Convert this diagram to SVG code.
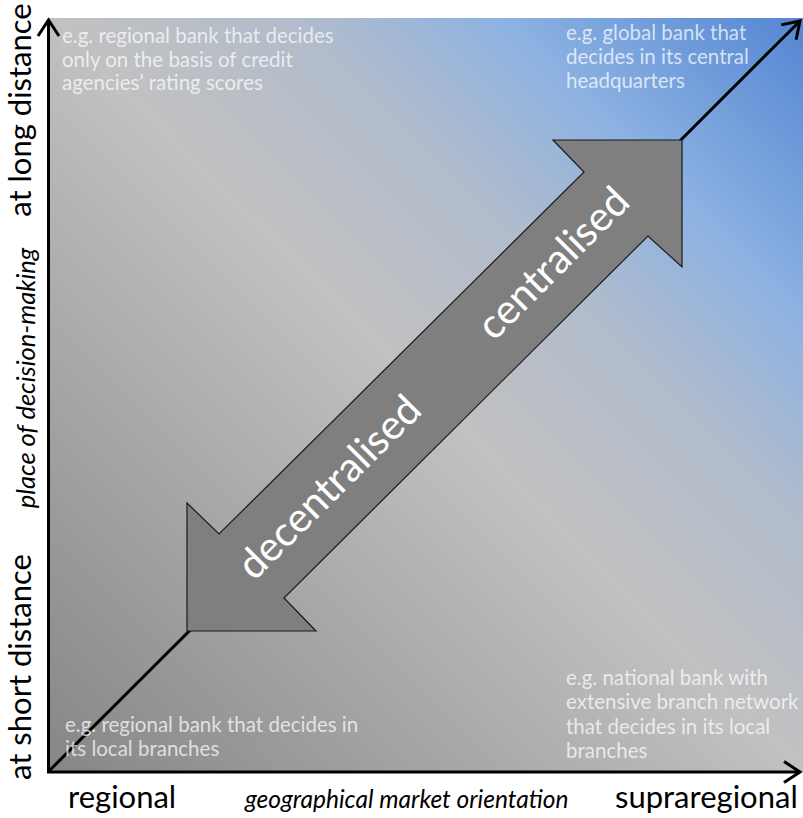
<svg xmlns="http://www.w3.org/2000/svg" width="803" height="818" viewBox="0 0 803 818">
  <defs>
    <linearGradient id="bg" gradientUnits="userSpaceOnUse" x1="48" y1="772" x2="803" y2="18">
      <stop offset="0" stop-color="#868686"/>
      <stop offset="0.5" stop-color="#c1c1c1"/>
      <stop offset="0.66" stop-color="#b2bccb"/>
      <stop offset="0.8" stop-color="#8db2e2"/>
      <stop offset="1" stop-color="#5386d2"/>
    </linearGradient>
    <marker id="chev" markerUnits="userSpaceOnUse" markerWidth="24" markerHeight="26" refX="17" refY="11" orient="auto" overflow="visible">
      <path d="M1,0.5 L17,11 L1,21.5" fill="none" stroke="#000" stroke-width="3"/>
    </marker>
    <style>
      .corner { font-family: Lato, "Liberation Sans", sans-serif; font-size: 20.5px; fill: #ffffff; fill-opacity: 0.72; }
      .axis { font-family: Lato, "Liberation Sans", sans-serif; font-size: 31px; fill: #000; }
      .axisit { font-family: Lato, "Liberation Sans", sans-serif; font-size: 24.5px; font-style: italic; fill: #000; }
      .ylabit { font-family: Lato, "Liberation Sans", sans-serif; font-size: 25.5px; font-style: italic; fill: #000; }
      .arrowlbl { font-family: Lato, "Liberation Sans", sans-serif; font-size: 41px; fill: #fff; text-anchor: middle; }
      .axline { stroke: #000; stroke-width: 3; fill: none; }
    </style>
  </defs>

  <rect x="0" y="0" width="803" height="818" fill="#ffffff"/>
  <rect id="background" x="48" y="18" width="755" height="754" fill="url(#bg)"/>

  <g id="connectors">
    <line class="axline" x1="48" y1="772" x2="800" y2="21" marker-end="url(#chev)"/>
    <line class="axline" x1="48.5" y1="773" x2="48.5" y2="20" marker-end="url(#chev)"/>
    <line class="axline" x1="47" y1="772" x2="800" y2="772" marker-end="url(#chev)"/>
  </g>

  <g id="double-arrow">
    <polygon points="682,140 682,267 648,236 284,598 316,631 187,631 187,503 219,534 584,172 553,140" fill="#7f7f7f" stroke="#1a1a1a" stroke-width="1.2" stroke-linejoin="miter"/>
    <text class="arrowlbl" transform="translate(563,273) rotate(-45)">centralised</text>
    <text class="arrowlbl" transform="translate(339,497) rotate(-45)">decentralised</text>
  </g>

  <g id="top-left-note">
    <text class="corner" x="62" y="43">e.g. regional bank that decides</text>
    <text class="corner" x="62" y="67">only on the basis of credit</text>
    <text class="corner" x="62" y="90">agencies’ rating scores</text>
  </g>
  <g id="top-right-note">
    <text class="corner" x="566" y="40">e.g. global bank that</text>
    <text class="corner" x="566" y="64">decides in its central</text>
    <text class="corner" x="566" y="88">headquarters</text>
  </g>
  <g id="bottom-left-note">
    <text class="corner" x="65" y="732">e.g. regional bank that decides in</text>
    <text class="corner" x="65" y="756">its local branches</text>
  </g>
  <g id="bottom-right-note">
    <text class="corner" x="566" y="685">e.g. national bank with</text>
    <text class="corner" x="566" y="709">extensive branch network</text>
    <text class="corner" x="566" y="734">that decides in its local</text>
    <text class="corner" x="566" y="758">branches</text>
  </g>

  <g id="x-axis-labels">
    <text class="axis" x="68" y="808">regional</text>
    <text class="axisit" x="245" y="808">geographical market orientation</text>
    <text class="axis" x="615" y="808">supraregional</text>
  </g>
  <g id="y-axis-labels">
    <text class="axis" text-anchor="middle" transform="translate(31,110) rotate(-90)">at long distance</text>
    <text class="ylabit" text-anchor="middle" transform="translate(35,378) rotate(-90)">place of decision-making</text>
    <text class="axis" text-anchor="middle" transform="translate(31,667) rotate(-90)">at short distance</text>
  </g>
</svg>
